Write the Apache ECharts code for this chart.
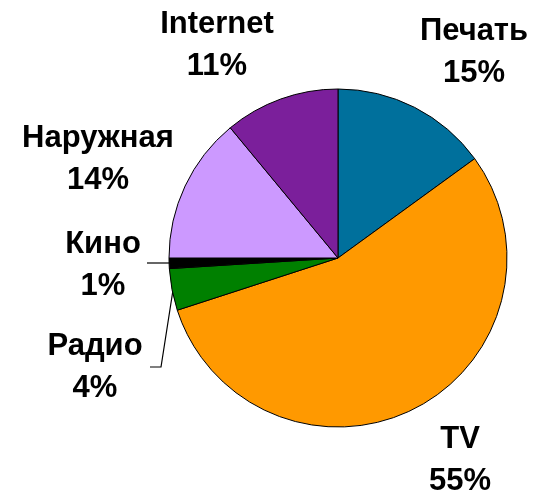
<!DOCTYPE html>
<html>
<head>
<meta charset="utf-8">
<script src="https://cdn.jsdelivr.net/npm/echarts@6/dist/echarts.min.js"></script>
<style>html,body{margin:0;padding:0;background:#fff}#c{width:537px;height:495px}</style>
</head>
<body>
<div id="c"></div>
<script>
const categories = ['Печать', 'TV', 'Радио', 'Кино', 'Наружная', 'Internet'];
const shares = [15, 55, 4, 1, 14, 11];
const colors = ['#00709C', '#FF9900', '#008000', '#000000', '#CC99FF', '#7B1F9B'];

// label centre positions (layout only)
const labelPos = [[474, 52], [460, 460], [95, 367], [103, 265], [98, 159], [217, 45]];

const chart = echarts.init(document.getElementById('c'), null, {renderer: 'canvas'});
chart.setOption({
  animation: false,
  series: [{
    type: 'pie',
    center: [338, 258],
    radius: 169,
    startAngle: 90,
    clockwise: true,
    itemStyle: {borderColor: '#000', borderWidth: 1},
    label: {
      show: true,
      position: 'outside',
      formatter: '{b}\n{c}%',
      fontFamily: 'Liberation Sans, Arial, sans-serif',
      fontWeight: 'bold',
      fontSize: 31,
      lineHeight: 42,
      color: '#000',
      align: 'center',
      overflow: 'none',
      width: 300
    },
    labelLine: {show: true, lineStyle: {color: '#000', width: 1.2}, length: 10, length2: 10},
    labelLayout: function (p) {
      const i = p.dataIndex;
      const res = {x: labelPos[i][0], y: labelPos[i][1], align: 'center', verticalAlign: 'middle'};
      if (categories[i] === 'Кино') {
        res.labelLinePoints = [[147, 263], [147, 263], [170, 263]];
      } else if (categories[i] === 'Радио') {
        res.labelLinePoints = [[150, 367], [161, 367], [173, 290]];
      } else {
        res.labelLinePoints = [[0, 0], [0, 0], [0, 0]];
      }
      return res;
    },
    data: categories.map((n, i) => ({
      name: n,
      value: shares[i],
      itemStyle: {color: colors[i]},
      labelLine: {show: n === 'Кино' || n === 'Радио'}
    }))
  }]
});
</script>
</body>
</html>
